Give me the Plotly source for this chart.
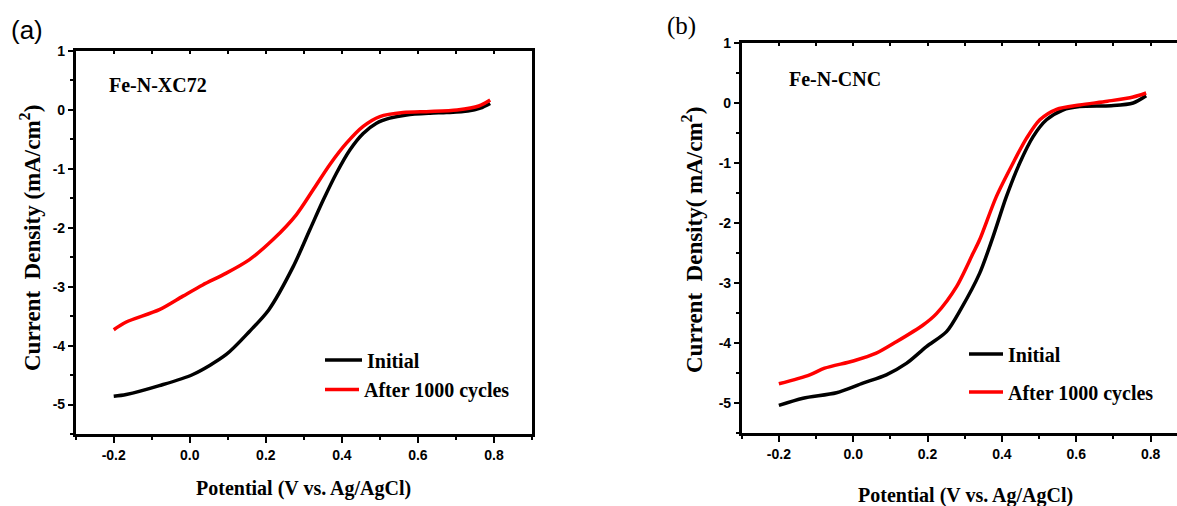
import plotly.graph_objects as go

W, H = 1177, 506

# ---------------- data ----------------
# Panel (a) Fe-N-XC72
a_init_x = [-0.2, -0.167, -0.08, 0.008, 0.096, 0.157, 0.208, 0.272, 0.316, 0.351,
            0.386, 0.421, 0.456, 0.491, 0.526, 0.570, 0.632, 0.675, 0.731, 0.764, 0.79]
a_init_y = [-4.86, -4.83, -4.68, -4.49, -4.15, -3.76, -3.39, -2.66, -2.03, -1.53,
            -1.07, -0.68, -0.40, -0.225, -0.14, -0.085, -0.056, -0.045, -0.02, 0.03, 0.11]
a_aged_x = [-0.2, -0.167, -0.08, -0.018, 0.034, 0.096, 0.157, 0.219, 0.280, 0.324,
            0.368, 0.412, 0.456, 0.500, 0.561, 0.632, 0.703, 0.76, 0.79]
a_aged_y = [-3.73, -3.60, -3.39, -3.16, -2.97, -2.77, -2.54, -2.20, -1.78, -1.36,
            -0.93, -0.565, -0.28, -0.113, -0.045, -0.028, 0.0, 0.067, 0.17]

# Panel (b) Fe-N-CNC
b_init_x = [-0.2, -0.135, -0.045, 0.026, 0.089, 0.143, 0.197, 0.251, 0.29, 0.340,
            0.376, 0.412, 0.448, 0.484, 0.520, 0.564, 0.609, 0.694, 0.753, 0.788]
b_init_y = [-5.04, -4.92, -4.83, -4.67, -4.53, -4.34, -4.06, -3.81, -3.43, -2.84,
            -2.23, -1.56, -1.0, -0.56, -0.28, -0.117, -0.06, -0.045, 0.0, 0.12]
b_aged_x = [-0.2, -0.117, -0.077, 0.0, 0.062, 0.116, 0.188, 0.224, 0.278, 0.322,
            0.340, 0.385, 0.430, 0.466, 0.502, 0.547, 0.609, 0.684, 0.753, 0.788]
b_aged_y = [-4.68, -4.53, -4.42, -4.30, -4.17, -3.98, -3.70, -3.51, -3.06, -2.51,
            -2.28, -1.56, -1.0, -0.59, -0.28, -0.105, -0.033, 0.03, 0.10, 0.167]

series_names = ["Initial", "After 1000 cycles"]
sample_names = ["Fe-N-XC72", "Fe-N-CNC"]
panel_labels = ["(a)", "(b)"]

x_tickvals = [-0.2, 0.0, 0.2, 0.4, 0.6, 0.8]
x_ticktext = ["-0.2", "0.0", "0.2", "0.4", "0.6", "0.8"]
x_minorvals = [-0.3, -0.1, 0.1, 0.3, 0.5, 0.7, 0.9]
x_topvals = [-0.3, -0.2, -0.1, 0.0, 0.1, 0.2, 0.3, 0.4, 0.5, 0.6, 0.7, 0.8, 0.9]
y_tickvals = [1, 0, -1, -2, -3, -4, -5]
y_ticktext = ["1", "0", "-1", "-2", "-3", "-4", "-5"]
y_minorvals = [0.5, -0.5, -1.5, -2.5, -3.5, -4.5, -5.5]

# ---------------- layout helpers ----------------
def px_x(p):
    return p / W

def px_y(p):
    return 1 - p / H

SANS = "Liberation Sans, Arial, sans-serif"
SERIF = "Liberation Serif, Times New Roman, serif"
tickfont = dict(family=SANS, size=14, color="black", weight="bold")

dom_a_x = [px_x(75.7), px_x(532)]
dom_a_y = [px_y(434), px_y(51)]
dom_b_x = [px_x(741.7), 1.0]
dom_b_y = [px_y(433), px_y(43)]

fig = go.Figure()

RED = "#ff0000"
BLACK = "#000000"
LW = 3.5
SHAPE = dict(shape="spline", smoothing=0.8)

fig.add_trace(go.Scatter(x=a_init_x, y=a_init_y, mode="lines", name=series_names[0],
                         line=dict(color=BLACK, width=LW, **SHAPE),
                         xaxis="x", yaxis="y", legend="legend"))
fig.add_trace(go.Scatter(x=a_aged_x, y=a_aged_y, mode="lines", name=series_names[1],
                         line=dict(color=RED, width=LW, **SHAPE),
                         xaxis="x", yaxis="y", legend="legend2"))
fig.add_trace(go.Scatter(x=b_init_x, y=b_init_y, mode="lines", name=series_names[0],
                         line=dict(color=BLACK, width=LW, **SHAPE),
                         xaxis="x2", yaxis="y2", legend="legend3"))
fig.add_trace(go.Scatter(x=b_aged_x, y=b_aged_y, mode="lines", name=series_names[1],
                         line=dict(color=RED, width=LW, **SHAPE),
                         xaxis="x2", yaxis="y2", legend="legend4"))
# invisible helpers so the frame axes are drawn
fig.add_trace(go.Scatter(x=a_init_x, y=a_init_y, mode="lines", line=dict(width=0),
                         opacity=0, showlegend=False, hoverinfo="skip",
                         xaxis="x3", yaxis="y3"))
fig.add_trace(go.Scatter(x=b_init_x, y=b_init_y, mode="lines", line=dict(width=0),
                         opacity=0, showlegend=False, hoverinfo="skip",
                         xaxis="x4", yaxis="y2"))

def bottom_axis(domain, rng, anchor):
    return dict(domain=domain, range=rng, anchor=anchor, showgrid=False, zeroline=False,
                automargin=False,
                showline=True, linewidth=2.5, linecolor="black",
                tickmode="array", tickvals=x_tickvals, ticktext=x_ticktext,
                ticks="outside", ticklen=6, tickwidth=2, tickcolor="black",
                tickfont=tickfont,
                minor=dict(tickmode="array", tickvals=x_minorvals, ticks="outside",
                           ticklen=3, tickwidth=2, tickcolor="black", showgrid=False))

def left_axis(domain, anchor):
    return dict(domain=domain, range=[-5.5, 1], anchor=anchor, showgrid=False, zeroline=False,
                automargin=False,
                showline=True, linewidth=2.5, linecolor="black",
                tickmode="array", tickvals=y_tickvals, ticktext=y_ticktext,
                ticks="outside", ticklen=5, tickwidth=2, tickcolor="black",
                tickfont=tickfont,
                minor=dict(tickmode="array", tickvals=y_minorvals, ticks="outside",
                           ticklen=3, tickwidth=2, tickcolor="black", showgrid=False))

def top_axis(overlay, rng, anchor):
    return dict(overlaying=overlay, range=rng, anchor=anchor, side="top",
                automargin=False,
                showgrid=False, zeroline=False, showline=True, linewidth=2.5,
                linecolor="black", tickmode="array", tickvals=x_topvals,
                ticks="inside", ticklen=3, tickwidth=1.5, tickcolor="black",
                showticklabels=False)

fig.update_layout(
    template="none",
    width=W, height=H, autosize=False,
    margin=dict(l=0, r=0, t=0, b=0, pad=0),
    paper_bgcolor="white", plot_bgcolor="white",
    xaxis=bottom_axis(dom_a_x, [-0.3, 0.9], "y"),
    yaxis=left_axis(dom_a_y, "x"),
    xaxis2=bottom_axis(dom_b_x, [-0.3, 0.871], "y2"),
    yaxis2=left_axis(dom_b_y, "x2"),
    xaxis3=top_axis("x", [-0.3, 0.9], "y"),
    yaxis3=dict(overlaying="y", range=[-5.5, 1], anchor="x", side="right",
                automargin=False,
                showgrid=False, zeroline=False, showline=True, linewidth=2.5,
                linecolor="black", ticks="", showticklabels=False),
    xaxis4=top_axis("x2", [-0.3, 0.871], "y2"),
    showlegend=True,
)

legfont = dict(family=SERIF, size=20, color="black", weight="bold")
def leg(x, y, iw):
    return dict(x=px_x(x), y=px_y(y), xanchor="left", yanchor="middle",
                bgcolor="rgba(0,0,0,0)", borderwidth=0, font=legfont, itemwidth=iw)

fig.update_layout(
    legend=leg(320, 360, 37),
    legend2=leg(320, 389.5, 34),
    legend3=leg(964, 354, 34),
    legend4=leg(964, 392, 34),
)

annos = [
    dict(text=panel_labels[0], x=px_x(9), y=px_y(30), xanchor="left", yanchor="middle",
         font=dict(family=SANS, size=26, color="black")),
    dict(text=panel_labels[1], x=px_x(665), y=px_y(26), xanchor="left", yanchor="middle",
         font=dict(family=SERIF, size=25, color="black")),
    dict(text=sample_names[0], x=px_x(107), y=px_y(85), xanchor="left", yanchor="middle",
         font=dict(family=SERIF, size=20, color="black", weight="bold")),
    dict(text=sample_names[1], x=px_x(787), y=px_y(79), xanchor="left", yanchor="middle",
         font=dict(family=SERIF, size=20, color="black", weight="bold")),
    dict(text="Potential (V vs. Ag/AgCl)", x=px_x(303.5), y=px_y(488), xanchor="center",
         yanchor="middle", font=dict(family=SERIF, size=20, color="black", weight="bold")),
    dict(text="Potential (V vs. Ag/AgCl)", x=px_x(965), y=px_y(495), xanchor="center",
         yanchor="middle", font=dict(family=SERIF, size=20, color="black", weight="bold")),
    dict(text="Current  Density (mA/cm<sup>2</sup>)", x=px_x(31), y=px_y(238), xanchor="center",
         yanchor="middle", textangle=-90,
         font=dict(family=SERIF, size=23, color="black", weight="bold")),
    dict(text="Current  Density( mA/cm<sup>2</sup>)", x=px_x(693), y=px_y(240), xanchor="center",
         yanchor="middle", textangle=-90,
         font=dict(family=SERIF, size=23, color="black", weight="bold")),
]
for a in annos:
    a.update(xref="paper", yref="paper", showarrow=False)
fig.update_layout(annotations=annos)

fig.write_html("out.html")
